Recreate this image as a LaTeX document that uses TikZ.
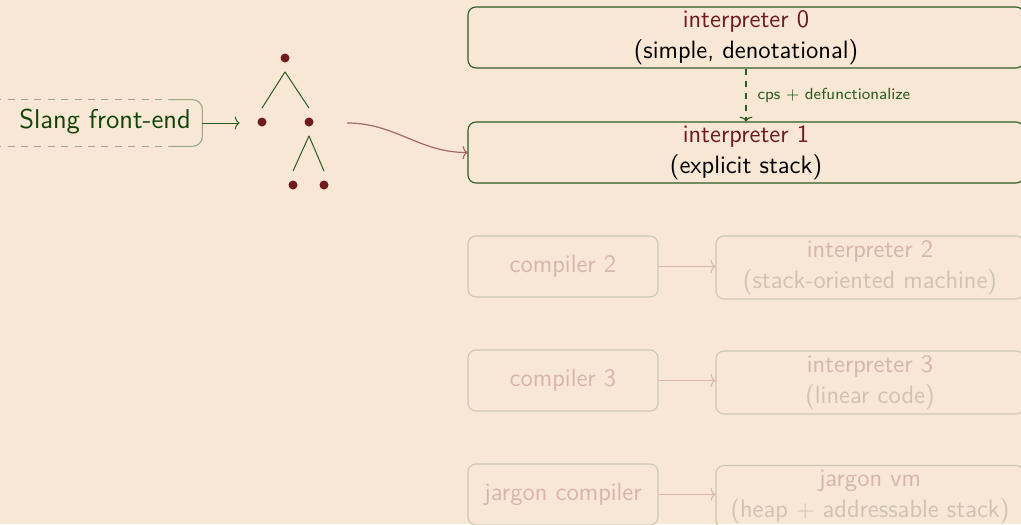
\documentclass[tikz,border=0pt]{standalone}
\usetikzlibrary{arrows.meta}
\definecolor{bg}{RGB}{247,231,212}
\definecolor{dgreen}{RGB}{45,90,35}
\definecolor{tgreen}{RGB}{18,68,10}
\definecolor{maroon}{RGB}{112,28,28}
\colorlet{fgreen}{dgreen!22!bg}
\colorlet{fmaroon}{maroon!24!bg}
\colorlet{fblack}{black!16!bg}
\colorlet{sgreen}{dgreen!45!bg}
\colorlet{cmaroon}{maroon!62!bg}
\tikzset{
  tip/.style={-{To[length=2.4pt,width=6.5pt]}},
  mainbox/.style={draw=dgreen, line width=0.55pt, rounded corners=4pt, minimum width=278pt, minimum height=30.5pt, align=center, inner sep=0pt, text=black},
  fadebox/.style={draw=fgreen, line width=0.55pt, rounded corners=4pt, minimum height=30.5pt, align=center, inner sep=0pt, text=fblack},
  compbox/.style={fadebox, minimum width=95pt, text=fmaroon},
  ibox/.style={fadebox, minimum width=154pt, minimum height=31.5pt},
  treenode/.style={minimum height=13.5pt, minimum width=22pt, inner sep=0pt},
  dot/.style={fill=maroon},
  edgeline/.style={dgreen, line width=0.5pt},
  fadearrow/.style={fmaroon, line width=0.5pt, tip},
}
\begin{document}
\begin{tikzpicture}[x=0.5pt, y=-0.5pt, font=\sffamily\fontsize{12.55}{15.2}\selectfont]
\useasboundingbox (0,0) rectangle (1021,524);
\fill[bg] (0,0) rectangle (1021,524);
\clip (0,0) rectangle (1021,524);

% Slang front-end
\node[minimum width=101pt, minimum height=23pt, inner sep=0pt] (slb) at (101,123) {};
\node[text=tgreen, font=\sffamily\fontsize{13.6}{16.5}\selectfont] (sl) at (105,122) {Slang front-end};
\draw[sgreen, line width=0.55pt, rounded corners=5pt]
  ([xshift=-17pt]slb.north east) -- (slb.north east) -- (slb.south east) -- ([xshift=-17pt]slb.south east);
\draw[sgreen, line width=0.55pt, dash pattern=on 3.5pt off 3.2pt, dash phase=-4pt]
  (slb.north west) -- ([xshift=-17pt]slb.north east);
\draw[sgreen, line width=0.55pt, dash pattern=on 3.5pt off 3.2pt, dash phase=-4pt]
  (slb.south west) -- ([xshift=-17pt]slb.south east);

% tree
\node[treenode] (r) at (285,58) {};
\node[treenode] (a) at (262,122) {};
\node[treenode] (b) at (309,122) {};
\node[treenode] (c) at (293,185) {};
\node[treenode] (d) at (324,185) {};
\foreach \n in {r,a,b,c,d} \fill[dot] (\n.center) circle (2.25pt);
\draw[edgeline] (r.south) -- (a.north);
\draw[edgeline] (r.south) -- (b.north);
\draw[edgeline] (b.south) -- (c.north);
\draw[edgeline] (b.south) -- (d.north);
\draw[dgreen, line width=0.5pt, tip] (slb.east) -- (slb.east -| a.west);

% interpreters 0 and 1
\node[mainbox] (i0) at (746,37.5) {\textcolor{maroon}{interpreter 0}\\(simple, denotational)};
\node[mainbox] (i1) at (746,152.5) {\textcolor{maroon}{interpreter 1}\\(explicit stack)};
\draw[dgreen, line width=0.55pt, dash pattern=on 3.3pt off 2.7pt, tip] (i0.south) -- (i1.north)
  node[midway, anchor=west, xshift=5.5pt, inner sep=0pt, text=dgreen, font=\sffamily\fontsize{8.0}{10}\selectfont] {cps $+$ defunctionalize};

\coordinate (tout) at (347,123);
\draw[cmaroon, line width=0.6pt, tip] (tout) to[out=0, in=180] (i1.west);

% faded rows
\node[compbox] (c2) at (563,266.5) {compiler 2};
\node[ibox] (i2) at (870,267.5) {\textcolor{fmaroon}{interpreter 2}\\(stack-oriented machine)};
\draw[fadearrow] (c2.east) -- (c2.east -| i2.west);

\node[compbox] (c3) at (563,380.5) {compiler 3};
\node[ibox] (i3) at (870,382.5) {\textcolor{fmaroon}{interpreter 3}\\(linear code)};
\draw[fadearrow] (c3.east) -- (c3.east -| i3.west);

\node[compbox] (jc) at (563,494.5) {jargon compiler};
\node[ibox] (jv) at (870,497) {\textcolor{fmaroon}{jargon vm}\\(heap $+$ addressable stack)};
\draw[fadearrow] (jc.east) -- (jc.east -| jv.west);
\end{tikzpicture}
\end{document}
